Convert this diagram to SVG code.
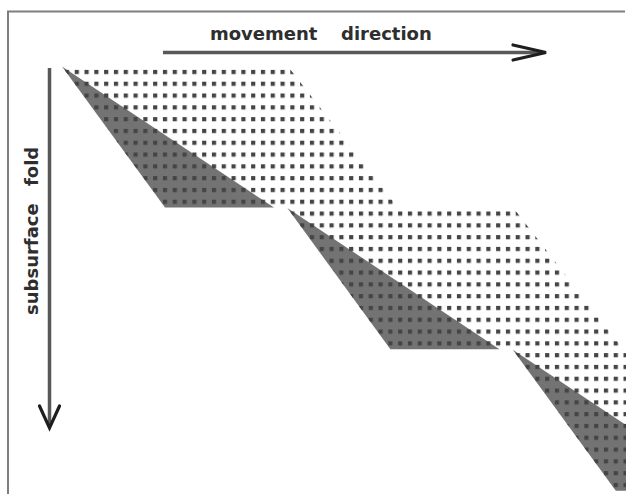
<svg xmlns="http://www.w3.org/2000/svg" width="626" height="494" viewBox="0 0 626 494">
  <style>
    .frame { stroke: #7e7e7e; stroke-width: 2; fill: none; }
    .dotted { fill: url(#dots); }
    .under { fill: #ffffff; }
    .dark { fill: #737373; }
    .shaft { stroke: #585858; stroke-width: 3.5; fill: none; }
    .head { stroke: #1e1e1e; stroke-width: 3.2; fill: none; stroke-linejoin: miter; stroke-linecap: round; }
    .lbl { font-family: "DejaVu Sans", Verdana, sans-serif; font-size: 18px; font-weight: bold; fill: #2e2e2e; }
  </style>
  <defs>
    <pattern id="dots" patternUnits="userSpaceOnUse" x="64.9" y="69.9" width="9.8" height="11.8">
      <rect x="0" y="0" width="4.2" height="4.2" fill="#454545"/>
    </pattern>
    <g id="unit">
      <polygon class="under" points="62,66.5 288,66.5 398,207.6 165,207.6"/>
      <polygon class="dark" points="62,66.5 165,207.6 274,207.6"/>
      <polygon class="dotted" points="62,66.5 288,66.5 398,207.6 165,207.6"/>
    </g>
  </defs>
  <rect x="0" y="0" width="626" height="494" fill="#ffffff"/>
  <g id="frame">
    <path class="frame" d="M8,494 V11.5 H625"/>
  </g>
  <g id="fold-unit-1">
    <use href="#unit"/>
  </g>
  <g id="fold-unit-2">
    <use href="#unit" transform="translate(225.4,141.6)"/>
  </g>
  <g id="fold-unit-3">
    <use href="#unit" transform="translate(450.8,283.2)"/>
  </g>
  <g id="connectors">
    <g id="movement-arrow">
      <line class="shaft" x1="163" y1="52.5" x2="543" y2="52.5"/>
      <path class="head" d="M513,45 L546,52.5 L513,60"/>
    </g>
    <g id="fold-arrow">
      <line class="shaft" x1="49.5" y1="68" x2="49.5" y2="425"/>
      <path class="head" d="M39.5,406 L49.5,428 L59.5,406"/>
    </g>
  </g>
  <g id="labels">
    <text class="lbl" x="210" y="40">movement</text>
    <text class="lbl" x="341" y="40">direction</text>
    <text class="lbl" transform="translate(38,315) rotate(-90)">subsurface</text>
    <text class="lbl" transform="translate(38,186) rotate(-90)">fold</text>
  </g>
</svg>
